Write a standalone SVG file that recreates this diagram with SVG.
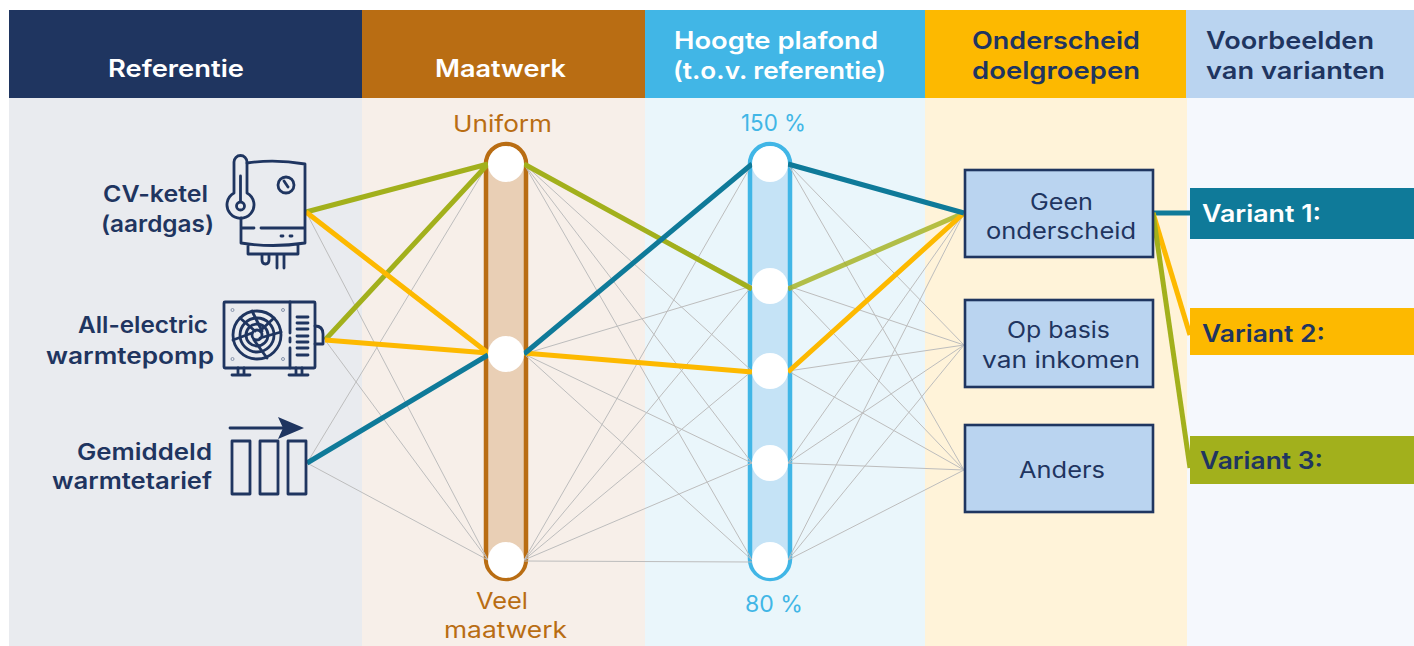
<svg xmlns="http://www.w3.org/2000/svg" width="1414" height="646" viewBox="0 0 1414 646">
<style>
text{font-family:Inter,"Noto Sans","Liberation Sans",sans-serif;font-size:23px;fill:#1f3560}
.h{font-size:24px;font-weight:600;fill:#fff}
.hd{font-size:24px;font-weight:600;fill:#1f3560}
.l{font-weight:600;font-size:22.500px}
.n{font-weight:400;font-size:22.500px}
.b{fill:#b96d13;font-weight:400}
.p{fill:#41b6e6;font-weight:400}
.v{font-weight:600;font-size:24px}
.g{stroke:#bdbdbd;stroke-width:1;fill:none}
.te{stroke:#0f7a99;stroke-width:5;fill:none}
.ye{stroke:#fdb900;stroke-width:5;fill:none}
.gr{stroke:#a2b01c;stroke-width:5;fill:none}
.i{fill:none;stroke:#1f3560;stroke-width:2.800;stroke-linecap:round;stroke-linejoin:round}
.box{fill:#bad4f0;stroke:#1f3560;stroke-width:2.600}
.c{fill:#fff}
</style>
<rect x="0" y="0" width="1414" height="646" fill="#fff"/>
<g id="columns">
<rect x="9" y="98" width="353" height="548" fill="#e9ebef"/>
<rect x="362" y="98" width="283" height="548" fill="#f7efe9"/>
<rect x="645" y="98" width="280" height="548" fill="#eaf6fb"/>
<rect x="925" y="98" width="262" height="548" fill="#fff3d9"/>
<rect x="1187" y="98" width="227" height="548" fill="#f5f8fd"/>
<rect x="9" y="10" width="353" height="88" fill="#1f3560"/>
<rect x="362" y="10" width="283" height="88" fill="#b96d13"/>
<rect x="645" y="10" width="280" height="88" fill="#41b6e6"/>
<rect x="925" y="10" width="261" height="88" fill="#fdb900"/>
<rect x="1186" y="10" width="228" height="88" fill="#bad4f0"/>
<text class="h" x="108" y="77" textLength="136" lengthAdjust="spacingAndGlyphs">Referentie</text>
<text class="h" x="435" y="77" textLength="131" lengthAdjust="spacingAndGlyphs">Maatwerk</text>
<text class="h" x="674" y="49" textLength="204" lengthAdjust="spacingAndGlyphs">Hoogte plafond</text>
<text class="h" x="673" y="79" textLength="213" lengthAdjust="spacingAndGlyphs">(t.o.v. referentie)</text>
<text class="hd" x="972" y="49" textLength="168" lengthAdjust="spacingAndGlyphs">Onderscheid</text>
<text class="hd" x="972" y="79" textLength="168" lengthAdjust="spacingAndGlyphs">doelgroepen</text>
<text class="hd" x="1206" y="49" textLength="168" lengthAdjust="spacingAndGlyphs">Voorbeelden</text>
<text class="hd" x="1206" y="79" textLength="179" lengthAdjust="spacingAndGlyphs">van varianten</text>
</g>
<g id="pill-maatwerk"><rect x="486" y="144" width="40" height="435" rx="20" fill="#e9cfb5" stroke="#b96d13" stroke-width="4.500"/></g>
<g id="pill-plafond"><rect x="750" y="144" width="40" height="435" rx="20" fill="#c5e3f6" stroke="#41b6e6" stroke-width="4.500"/></g>
<g id="connectors">
<path class="g" d="M306 212L488 560M325 340L488 560M307 463L488 164M307 463L488 560"/>
<path class="g" d="M524 164L752 286M524 164L752 371M524 164L752 463M524 164L752 560M524 354L752 286M524 354L752 463M524 354L752 560M524 560L752 164M524 560L752 286M524 560L752 371M524 560L752 463M524 561L752 562"/>
<path class="g" d="M788 164L964 345M788 164L964 470M788 286L964 345M788 286L964 470M788 371L964 345M788 371L964 470M788 463L964 213M788 463L964 345M788 463L964 470M788 560L964 213M788 560L964 345M788 560L964 470"/>
<path class="gr" d="M306 212L488 164M325 340L488 164M524 164L752 289"/>
<path class="gr" d="M788 289L964 213" stroke-opacity=".8"/>
<path class="ye" d="M306 212L488 353M325 340L488 353M524 353L752 372M788 372L964 213"/>
<path class="te" d="M307 463L488 355M524 354L752 164M788 164L964 213"/>
<path class="te" d="M1153 213H1190"/>
<path class="ye" d="M1153 213L1190 335"/>
<path class="gr" d="M1153 213L1190 468"/>
</g>
<g id="node-cv">
<path class="i" d="M247 163Q275 159 305 164V243Q273 248 241 243V218M241 228H254M261 228H305M248 245V254H298V245M262 254V260Q262 264 265.500 264Q269 264 269 260V254M277 254V268M284 254V268"/>
<path class="i" d="M234 193V162A6.500 6.500 0 0 1 247 162V193A13.500 13.500 0 1 1 234 193Z"/>
<circle class="i" cx="240.500" cy="206" r="4"/>
<path class="i" d="M240.500 176V201M281 236H283M290 236H292"/>
<circle class="i" cx="286" cy="185" r="8"/>
<path class="i" d="M284 181L288 187"/>
<text class="l" x="103" y="202" textLength="105" lengthAdjust="spacingAndGlyphs">CV-ketel</text>
<text class="l" x="101" y="232" textLength="113" lengthAdjust="spacingAndGlyphs">(aardgas)</text>
</g>
<g id="node-wp">
<rect class="i" x="224" y="302" width="91" height="66" rx="1"/>
<path class="i" d="M290 302V333M290 338V342M290 348V368"/>
<circle class="i" cx="257" cy="335" r="24"/>
<circle class="i" cx="257" cy="335" r="17"/>
<circle class="i" cx="257" cy="335" r="11"/>
<circle class="i" cx="257" cy="335" r="5"/>
<path class="i" d="M252 311L262 331M281 332L260 338M267 358L254 340M233 340L252 333M240 318L255 331M274 318L260 331"/>
<path class="i" d="M297 317H308M297 323H308M297 329H308M297 336H308M297 342H308M297 348H308M297 355H308M315 326Q323 326 323 334V344H315M238 368V375M244 368V375M232 375H250M296 368V375M302 368V375M289 375H308"/>
<g fill="none" stroke="#8794ab" stroke-width="1"><circle cx="232.500" cy="310" r="1.500"/><circle cx="283" cy="310" r="1.500"/><circle cx="232.500" cy="359" r="1.500"/><circle cx="283" cy="359" r="1.500"/></g>
<text class="l" x="78" y="333" textLength="130" lengthAdjust="spacingAndGlyphs">All-electric</text>
<text class="l" x="46" y="364" textLength="168" lengthAdjust="spacingAndGlyphs">warmtepomp</text>
</g>
<g id="node-tarief">
<path class="i" d="M230 428H285"/>
<path d="M278 417L304 428L278 439L283 428Z" fill="#1f3560"/>
<rect class="i" x="232" y="441" width="18" height="53"/>
<rect class="i" x="260" y="441" width="18" height="53"/>
<rect class="i" x="288" y="441" width="18" height="53"/>
<text class="l" x="77" y="460" textLength="135" lengthAdjust="spacingAndGlyphs">Gemiddeld</text>
<text class="l" x="52" y="489" textLength="160" lengthAdjust="spacingAndGlyphs">warmtetarief</text>
</g>
<g id="node-maatwerk">
<circle class="c" cx="506" cy="164" r="18"/><circle class="c" cx="506" cy="354" r="18"/><circle class="c" cx="506" cy="560" r="18"/>
<text class="b" x="453" y="132" textLength="99" lengthAdjust="spacingAndGlyphs">Uniform</text>
<text class="b" x="476" y="609" textLength="52" lengthAdjust="spacingAndGlyphs">Veel</text>
<text class="b" x="444" y="638" textLength="123" lengthAdjust="spacingAndGlyphs">maatwerk</text>
</g>
<g id="node-plafond">
<circle class="c" cx="770" cy="164" r="18"/><circle class="c" cx="770" cy="286" r="18"/><circle class="c" cx="770" cy="371" r="18"/><circle class="c" cx="770" cy="463" r="18"/><circle class="c" cx="770" cy="560" r="18"/>
<text class="p" x="741" y="131" textLength="65" lengthAdjust="spacingAndGlyphs">150 %</text>
<text class="p" x="745" y="612" textLength="58" lengthAdjust="spacingAndGlyphs">80 %</text>
</g>
<g id="node-geen"><rect class="box" x="965" y="170" width="188" height="87"/>
<text class="n" x="1030" y="210" textLength="63" lengthAdjust="spacingAndGlyphs">Geen</text>
<text class="n" x="986" y="239" textLength="150" lengthAdjust="spacingAndGlyphs">onderscheid</text></g>
<g id="node-inkomen"><rect class="box" x="965" y="300" width="188" height="87"/>
<text class="n" x="1007" y="338" textLength="103" lengthAdjust="spacingAndGlyphs">Op basis</text>
<text class="n" x="982" y="368" textLength="158" lengthAdjust="spacingAndGlyphs">van inkomen</text></g>
<g id="node-anders"><rect class="box" x="965" y="425" width="188" height="87"/>
<text class="n" x="1019" y="478" textLength="86" lengthAdjust="spacingAndGlyphs">Anders</text></g>
<g id="node-v1"><rect x="1190" y="188" width="224" height="51" fill="#0f7a99"/>
<text class="v" x="1202" y="222" textLength="119" lengthAdjust="spacingAndGlyphs" style="fill:#fff">Variant 1:</text></g>
<g id="node-v2"><rect x="1190" y="308" width="224" height="47" fill="#fdb900"/>
<text class="v" x="1202" y="342" textLength="123" lengthAdjust="spacingAndGlyphs">Variant 2:</text></g>
<g id="node-v3"><rect x="1190" y="436" width="224" height="48" fill="#a2b01c"/>
<text class="v" x="1200" y="469" textLength="123" lengthAdjust="spacingAndGlyphs">Variant 3:</text></g>
</svg>
